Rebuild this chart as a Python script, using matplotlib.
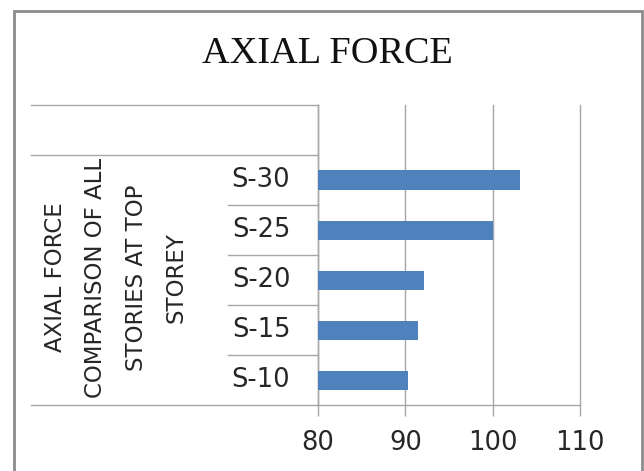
import matplotlib
matplotlib.use("Agg")
import matplotlib.pyplot as plt
from matplotlib.lines import Line2D
from matplotlib.patches import Rectangle
from matplotlib.transforms import blended_transform_factory

# Axial force at top storey for each building height
categories = ["S-10", "S-15", "S-20", "S-25", "S-30"]
axial_force = [90.3, 91.4, 92.1, 100.0, 103.1]
x_ticks = [80, 90, 100, 110]
group_label = "AXIAL FORCE\nCOMPARISON OF ALL\nSTORIES AT TOP\nSTOREY"
title = "AXIAL FORCE"

W, H = 644, 471
DPI = 100
BAR_COLOR = "#4F81BD"
LINE_COLOR = "#A6A6A6"
TEXT_COLOR = "#262626"

fig = plt.figure(figsize=(W / DPI, H / DPI), dpi=DPI)
fig.patch.set_facecolor("white")

def fx(px):
    return px / W

def fy(py):
    return 1 - py / H

# plot area (one spare slot above the last category)
ax = fig.add_axes([fx(318), fy(405), fx(580) - fx(318), fy(105) - fy(405)])
n_slots = len(categories) + 1
ypos = list(range(len(categories)))
ax.barh(ypos, axial_force, height=0.38, color=BAR_COLOR, zorder=3)
ax.set_xlim(x_ticks[0], x_ticks[-1])
ax.set_ylim(-0.5, n_slots - 0.5)

ax.set_xticks(x_ticks)
ax.set_xticklabels([str(t) for t in x_ticks])
ax.tick_params(axis="x", direction="out", length=8, width=1, color=LINE_COLOR,
               labelsize=18.5, labelcolor=TEXT_COLOR, pad=10)
ax.set_yticks([])
ax.xaxis.grid(True, color=LINE_COLOR, linewidth=1)
ax.set_axisbelow(True)
for gl in ax.get_xgridlines():
    gl.set_clip_on(False)
for side in ("top", "right"):
    ax.spines[side].set_visible(False)
for side in ("left", "bottom"):
    ax.spines[side].set_color(LINE_COLOR)
    ax.spines[side].set_linewidth(1)

for lab in ax.get_xticklabels():
    lab.set_fontfamily("DejaVu Sans")

# category table on the left
tr = blended_transform_factory(fig.transFigure, ax.transData)
full_rows = [-0.5, len(categories) - 0.5, n_slots - 0.5]
for yv in full_rows:
    fig.add_artist(Line2D([fx(31), fx(318)], [yv, yv], transform=tr,
                          color=LINE_COLOR, linewidth=1))
for i in range(len(categories) - 1):
    yv = i + 0.5
    fig.add_artist(Line2D([fx(228), fx(318)], [yv, yv], transform=tr,
                          color=LINE_COLOR, linewidth=1))

for y, lab in zip(ypos, categories):
    fig.text(fx(261), y, lab, transform=tr, ha="center", va="center",
             fontsize=18.5, color=TEXT_COLOR, family="DejaVu Sans")

fig.text(fx(116), (len(categories) - 1) / 2 + 0.05, group_label, transform=tr,
         rotation=90, ha="center", va="center", multialignment="center",
         fontsize=16.5, linespacing=1.95, color=TEXT_COLOR, family="DejaVu Sans")

# title
fig.text(fx(327.5), fy(63.3), title, ha="center", va="baseline",
         fontsize=27.5, family="Liberation Serif", color="#111111")

# chart border
fig.add_artist(Rectangle((fx(13.5), fy(500)), fx(641.5) - fx(13.5), fy(11) - fy(500),
                         transform=fig.transFigure, fill=False,
                         edgecolor="#8C8C8C", linewidth=2, clip_on=False))

fig.savefig("out.png", dpi=DPI, facecolor="white")
